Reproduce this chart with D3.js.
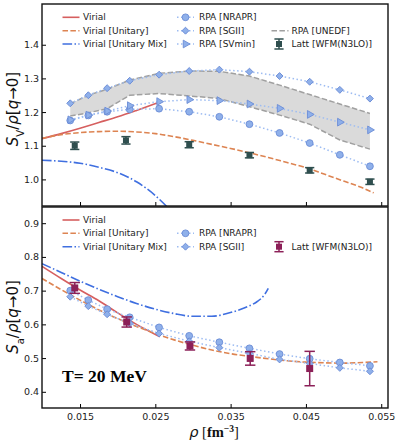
<!DOCTYPE html>
<html>
<head>
<meta charset="utf-8">
<script src="https://cdn.jsdelivr.net/npm/d3@7"></script>
<style>
  body { margin: 0; background: #fff; }
  svg { display: block; font-family: "DejaVu Sans", sans-serif; }
</style>
</head>
<body>
<div id="chart"></div>
<script>
// densities (fm^-3) of the RPA points
const rpaRho = [0.0137, 0.0161, 0.0186, 0.0216, 0.0255, 0.0295, 0.0335, 0.0375, 0.0415, 0.0455, 0.0495, 0.0535];

// top panel: S_V / rho
const nraprV = [1.175, 1.190, 1.201, 1.208, 1.210, 1.201, 1.186, 1.164, 1.138, 1.108, 1.073, 1.039];
const sgiiV  = [1.226, 1.250, 1.271, 1.293, 1.311, 1.322, 1.326, 1.320, 1.307, 1.290, 1.266, 1.240];
const svminV = [1.177, 1.191, 1.203, 1.219, 1.231, 1.237, 1.234, 1.224, 1.211, 1.193, 1.170, 1.147];
const unedfHi = [1.225, 1.250, 1.268, 1.295, 1.315, 1.322, 1.321, 1.307, 1.280, 1.252, 1.224, 1.196];
const unedfLo = [1.188, 1.198, 1.210, 1.250, 1.255, 1.248, 1.240, 1.216, 1.191, 1.164, 1.117, 1.090];

const virialRhoV = [0.00995, 0.0125, 0.015, 0.0175, 0.02, 0.0225, 0.0255];
const virialV    = [1.121, 1.136, 1.152, 1.169, 1.186, 1.205, 1.229];

const unitaryRhoV = [0.00995, 0.0125, 0.015, 0.0175, 0.02, 0.0225, 0.025, 0.0275, 0.03, 0.0325, 0.035, 0.0375, 0.04, 0.0425, 0.045, 0.0475, 0.05, 0.0525, 0.054];
const unitaryV    = [1.122, 1.133, 1.139, 1.142, 1.143, 1.141, 1.136, 1.127, 1.116, 1.104, 1.092, 1.079, 1.065, 1.050, 1.035, 1.015, 0.995, 0.975, 0.960];

const mixRhoV = [0.00995, 0.0125, 0.015, 0.0175, 0.02, 0.0225, 0.025, 0.0265, 0.028];
const mixV    = [1.057, 1.054, 1.048, 1.036, 1.020, 0.993, 0.952, 0.920, 0.885];

const lattRhoV = [0.0143, 0.0211, 0.0295, 0.0375, 0.0455, 0.0535];
const lattV    = [1.100, 1.116, 1.103, 1.072, 1.027, 0.993];
const lattErrV = [0.011, 0.011, 0.009, 0.008, 0.008, 0.008];

// bottom panel: S_a / rho
const nraprA = [0.700, 0.672, 0.645, 0.621, 0.591, 0.566, 0.547, 0.529, 0.512, 0.498, 0.487, 0.477];
const sgiiA  = [0.682, 0.654, 0.630, 0.603, 0.573, 0.550, 0.531, 0.514, 0.496, 0.484, 0.471, 0.461];

const virialRhoA = [0.00995, 0.0125, 0.015, 0.0175, 0.02, 0.0225, 0.0256];
const virialA    = [0.772, 0.736, 0.702, 0.670, 0.634, 0.600, 0.563];

const unitaryRhoA = [0.00995, 0.0125, 0.015, 0.0175, 0.02, 0.0225, 0.025, 0.0275, 0.03, 0.0325, 0.035, 0.0375, 0.04, 0.0425, 0.045, 0.0475, 0.05, 0.0525, 0.0545];
const unitaryA    = [0.736, 0.703, 0.672, 0.643, 0.617, 0.594, 0.573, 0.554, 0.538, 0.524, 0.513, 0.505, 0.498, 0.492, 0.488, 0.486, 0.485, 0.487, 0.489];

const mixRhoA = [0.00995, 0.0125, 0.015, 0.0175, 0.02, 0.0225, 0.025, 0.0275, 0.03, 0.0325, 0.0345, 0.036, 0.0375, 0.0385, 0.0395, 0.040];
const mixA    = [0.780, 0.754, 0.728, 0.704, 0.682, 0.662, 0.645, 0.632, 0.624, 0.624, 0.632, 0.642, 0.655, 0.667, 0.688, 0.707];

const lattRhoA = [0.0143, 0.0212, 0.0296, 0.0376, 0.0455];
const lattA    = [0.708, 0.607, 0.536, 0.499, 0.469];
const lattErrA = [0.016, 0.015, 0.012, 0.020, 0.051];

const xTicks = [0.015, 0.025, 0.035, 0.045, 0.055];
const yTicksTop = [1.0, 1.1, 1.2, 1.3, 1.4];
const yTicksBot = [0.4, 0.5, 0.6, 0.7, 0.8, 0.9];

const red = "#d65f5f", orange = "#dd8452", blue = "#3f6fe0";
const rpaLine = "#9dbcf2", rpaFill = "#8fb0ea", rpaEdge = "#6b8cd6";
const lattTop = "#2f4f4f", lattBot = "#8c2058";

const W = 398, H = 445;
const left = 42, right = 388;

const svg = d3.select("#chart").append("svg")
    .attr("width", W)
    .attr("height", H);

const x = d3.scaleLinear().domain([0.00995, 0.0559]).range([left, right]);
const yTop = d3.scaleLinear().domain([0.921, 1.521]).range([206, 4]);
const yBot = d3.scaleLinear().domain([0.352, 0.948]).range([408, 207]);

function zip(xs, ys) { return xs.map((v, i) => [v, ys[i]]); }

function drawMarker(g, kind, px, py) {
    let m;
    if (kind === "circle") {
        m = g.append("circle").attr("cx", px).attr("cy", py).attr("r", 3.4);
    } else if (kind === "diamond") {
        m = g.append("path").attr("d", d3.symbol(d3.symbolSquare, 24)())
            .attr("transform", `translate(${px},${py}) rotate(45)`);
    } else {
        m = g.append("path").attr("d", d3.symbol(d3.symbolTriangle, 26)())
            .attr("transform", `translate(${px},${py}) rotate(90)`);
    }
    m.attr("fill", rpaFill).attr("stroke", rpaEdge).attr("stroke-width", 0.9);
}

function drawLatt(g, px, py, ptop, pbot, color, size) {
    const cw = size * 0.6 + 1;
    g.append("line").attr("x1", px).attr("x2", px).attr("y1", ptop).attr("y2", pbot)
        .attr("stroke", color).attr("stroke-width", 1.5);
    [ptop, pbot].forEach(yy => g.append("line")
        .attr("x1", px - cw).attr("x2", px + cw).attr("y1", yy).attr("y2", yy)
        .attr("stroke", color).attr("stroke-width", 1.5));
    g.append("rect").attr("x", px - size / 2).attr("y", py - size / 2)
        .attr("width", size).attr("height", size).attr("fill", color);
}

function panel(id, y, y0, y1) {
    svg.append("clipPath").attr("id", id)
        .append("rect").attr("x", left).attr("y", y0).attr("width", right - left).attr("height", y1 - y0);
    return svg.append("g").attr("clip-path", `url(#${id})`);
}

const lineGen = (y, curve) => d3.line().x(d => x(d[0])).y(d => y(d[1])).curve(curve || d3.curveMonotoneX);

function curve(g, y, xs, ys, color, dash) {
    g.append("path").attr("d", lineGen(y)(zip(xs, ys)))
        .attr("fill", "none").attr("stroke", color).attr("stroke-width", 1.6)
        .attr("stroke-dasharray", dash || null);
}

function rpa(g, y, ys, kind) {
    g.append("path").attr("d", lineGen(y, d3.curveLinear)(zip(rpaRho, ys)))
        .attr("fill", "none").attr("stroke", rpaLine).attr("stroke-width", 1.5)
        .attr("stroke-dasharray", "1.5,2.5");
    rpaRho.forEach((r, i) => drawMarker(g, kind, x(r), y(ys[i])));
}

// ---------- top panel ----------
const gt = panel("clipTop", yTop, 4, 206);

const band = d3.area().x((d, i) => x(rpaRho[i])).y0((d, i) => yTop(unedfLo[i])).y1(d => yTop(d));
gt.append("path").attr("d", band(unedfHi)).attr("fill", "#d6d6d6").attr("opacity", 0.9);
[unedfHi, unedfLo].forEach(arr => {
    gt.append("path").attr("d", lineGen(yTop, d3.curveLinear)(zip(rpaRho, arr)))
        .attr("fill", "none").attr("stroke", "#a0a0a0").attr("stroke-width", 1.5)
        .attr("stroke-dasharray", "5.5,2.4");
});

curve(gt, yTop, virialRhoV, virialV, red);
curve(gt, yTop, unitaryRhoV, unitaryV, orange, "5.5,2.4");
curve(gt, yTop, mixRhoV, mixV, blue, "9.6,2.4,1.5,2.4");

rpa(gt, yTop, nraprV, "circle");
rpa(gt, yTop, sgiiV, "diamond");
rpa(gt, yTop, svminV, "triangle");

lattRhoV.forEach((r, i) => drawLatt(gt, x(r), yTop(lattV[i]),
    yTop(lattV[i] + lattErrV[i]), yTop(lattV[i] - lattErrV[i]), lattTop, 6));

// ---------- bottom panel ----------
const gb = panel("clipBot", yBot, 207, 408);

curve(gb, yBot, virialRhoA, virialA, red);
curve(gb, yBot, unitaryRhoA, unitaryA, orange, "5.5,2.4");
curve(gb, yBot, mixRhoA, mixA, blue, "9.6,2.4,1.5,2.4");

rpa(gb, yBot, nraprA, "circle");
rpa(gb, yBot, sgiiA, "diamond");

lattRhoA.forEach((r, i) => drawLatt(gb, x(r), yBot(lattA[i]),
    yBot(lattA[i] + lattErrA[i]), yBot(lattA[i] - lattErrA[i]), lattBot, 7));

// ---------- axes ----------
function axes(y, y0, y1, yTicks, showX) {
    const ax = svg.append("g").attr("transform", `translate(${left},0)`)
        .call(d3.axisLeft(y).tickValues(yTicks).tickFormat(d3.format(".1f"))
            .tickSizeInner(-4).tickSizeOuter(0).tickPadding(3));
    const bx = svg.append("g").attr("transform", `translate(0,${y1})`)
        .call(d3.axisBottom(x).tickValues(xTicks)
            .tickFormat(showX ? d3.format(".3f") : () => "")
            .tickSizeInner(-4).tickSizeOuter(0).tickPadding(5));
    [ax, bx].forEach(a => {
        a.select(".domain").remove();
        a.selectAll("line").attr("stroke", "#000").attr("stroke-width", 1);
        a.selectAll("text").attr("font-size", 9.5).attr("fill", "#222")
            .attr("font-family", "DejaVu Sans");
    });
    svg.append("rect").attr("x", left).attr("y", y0).attr("width", right - left).attr("height", y1 - y0)
        .attr("fill", "none").attr("stroke", "#111").attr("stroke-width", 1.4);
}
axes(yTop, 4, 206, yTicksTop, false);
axes(yBot, 207, 408, yTicksBot, true);

// ---------- legends ----------
function legLine(px, py, color, dash) {
    svg.append("line").attr("x1", px).attr("x2", px + 17).attr("y1", py).attr("y2", py)
        .attr("stroke", color).attr("stroke-width", 1.6).attr("stroke-dasharray", dash || null);
}
function legText(px, py, txt) {
    svg.append("text").attr("x", px).attr("y", py).attr("dy", "0.35em")
        .attr("font-size", 9).attr("fill", "#222").text(txt);
}
function legRpa(px, py, kind) {
    svg.append("line").attr("x1", px).attr("x2", px + 17).attr("y1", py).attr("y2", py)
        .attr("stroke", rpaLine).attr("stroke-width", 1.5).attr("stroke-dasharray", "1.5,2.5");
    drawMarker(svg, kind, px + 8.5, py);
}

const curveNames = ["Virial", "Virial [Unitary]", "Virial [Unitary Mix]"];
const rpaNamesTop = ["RPA [NRAPR]", "RPA [SGII]", "RPA [SVmin]"];
const lattName = "Latt [WFM(N3LO)]";

[[17.3, 30.7, 44], [220, 233.3, 246.7]].forEach((rows, p) => {
    legLine(62.5, rows[0], red);
    legLine(62.5, rows[1], orange, "5.5,2.4");
    legLine(62.5, rows[2], blue, "9.6,2.4,1.5,2.4");
    curveNames.forEach((n, i) => legText(83, rows[i], n));
    if (p === 0) {
        ["circle", "diamond", "triangle"].forEach((k, i) => {
            legRpa(177, rows[i], k);
            legText(199, rows[i], rpaNamesTop[i]);
        });
        legLine(271.5, rows[1], "#a0a0a0", "5.5,2.4");
        legText(291.5, rows[1], "RPA [UNEDF]");
        drawLatt(svg, 279, rows[2], rows[2] - 5, rows[2] + 5, lattTop, 6);
        legText(291.5, rows[2], lattName);
    } else {
        legRpa(177, rows[1], "circle");
        legText(199, rows[1], rpaNamesTop[0]);
        legRpa(177, rows[2], "diamond");
        legText(199, rows[2], rpaNamesTop[1]);
        drawLatt(svg, 279, rows[2], rows[2] - 5, rows[2] + 5, lattBot, 6);
        legText(291.5, rows[2], lattName);
    }
});

// ---------- labels ----------
function yLabel(cy, sub) {
    const t = svg.append("text").attr("transform", `translate(18,${cy}) rotate(-90)`)
        .attr("text-anchor", "middle").attr("font-size", 15).attr("fill", "#111");
    t.append("tspan").attr("font-style", "italic").text("S");
    t.append("tspan").attr("baseline-shift", "sub").attr("font-size", 10).text(sub);
    t.append("tspan").text("/");
    t.append("tspan").attr("font-style", "italic").text("ρ");
    t.append("tspan").text("[");
    t.append("tspan").attr("font-style", "italic").text("q");
    t.append("tspan").text("→0]");
}
yLabel(109, "V");
yLabel(317, "a");

const xl = svg.append("text").attr("x", 214).attr("y", 437).attr("text-anchor", "middle")
    .attr("font-size", 14.5).attr("fill", "#111");
xl.append("tspan").attr("font-style", "italic").text("ρ");
xl.append("tspan").attr("font-family", "Liberation Serif").text(" [");
xl.append("tspan").attr("font-family", "Liberation Serif").attr("font-weight", "bold").text("fm");
xl.append("tspan").attr("font-family", "Liberation Serif").attr("font-weight", "bold")
    .attr("baseline-shift", "super").attr("font-size", 9.5).text("−3");
xl.append("tspan").attr("font-family", "Liberation Serif").text("]");

svg.append("text").attr("x", 62).attr("y", 382)
    .attr("font-family", "Liberation Serif").attr("font-weight", "bold")
    .attr("font-size", 17.5).attr("fill", "#000").text("T= 20 MeV");
</script>
</body>
</html>
